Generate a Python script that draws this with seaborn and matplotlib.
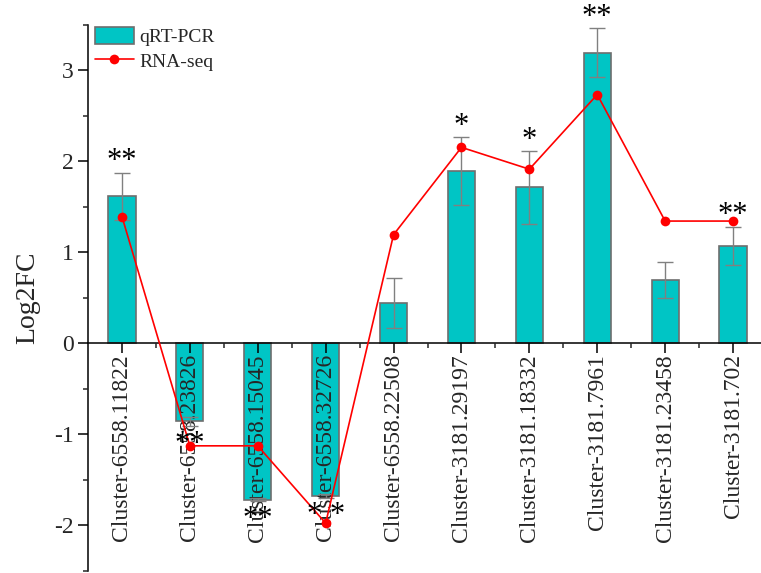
import matplotlib
matplotlib.use("Agg")
import matplotlib.pyplot as plt
import seaborn as sns
import pandas as pd
import numpy as np

genes = ["Cluster-6558.11822", "Cluster-6558.23826", "Cluster-6558.15045",
         "Cluster-6558.32726", "Cluster-6558.22508", "Cluster-3181.29197",
         "Cluster-3181.18332", "Cluster-3181.7961", "Cluster-3181.23458",
         "Cluster-3181.702"]
qpcr = [1.61, -0.86, -1.72, -1.68, 0.44, 1.89, 1.71, 3.19, 0.69, 1.07]
qpcr_err = [0.26, 0.05, 0.02, 0.02, 0.27, 0.37, 0.40, 0.27, 0.20, 0.21]
rnaseq = [1.39, -1.13, -1.13, -1.98, 1.19, 2.15, 1.91, 2.73, 1.34, 1.34]
signif = ["**", "**", "**", "* *", "", "*", "*", "**", "", "**"]

sns.set_theme(style="ticks")
plt.rcParams["font.family"] = ["Liberation Serif", "DejaVu Serif"]
plt.rcParams["axes.unicode_minus"] = False

df = pd.DataFrame({"gene": genes, "qRT-PCR": qpcr, "err": qpcr_err,
                   "RNA-seq": rnaseq})

fig = plt.figure(figsize=(7.61, 5.73), dpi=100)
ax = fig.add_axes([88 / 761, 1 - 570.5 / 573, 679 / 761, 546 / 573])

sns.barplot(data=df, x="gene", y="qRT-PCR", ax=ax, width=0.4,
            color="#00C5C5", edgecolor="#6E6E6E", linewidth=1.2,
            saturation=1, label="qRT-PCR", errorbar=None, zorder=1)
for p in ax.patches:
    p.set_zorder(1)
x = np.arange(len(genes))
ax.errorbar(x, df["qRT-PCR"], yerr=df["err"], fmt="none",
            ecolor="#808080", elinewidth=1.0, capsize=6, capthick=1.0, zorder=3)
sns.lineplot(x=x, y=df["RNA-seq"], ax=ax, color="red", linewidth=1.2,
             marker="o", markersize=7, markeredgewidth=0, label="RNA-seq",
             zorder=4)

# significance marks beyond each error bar
for i, (v, e, s) in enumerate(zip(qpcr, qpcr_err, signif)):
    if not s:
        continue
    ypos = v + e + 0.12 if v >= 0 else v - e - 0.2
    ax.text(i, ypos, s, ha="center", va="center", fontsize=22, color="black",
            clip_on=False, zorder=5)

ax.set_xlim(-0.5, len(genes) - 0.5)
ax.set_ylim(-2.5, 3.5)
ax.set_yticks([-2, -1, 0, 1, 2, 3])
ax.set_yticks(np.arange(-2.5, 3.51, 0.5), minor=True)
ax.set_xticks(x)
ax.set_xticks(x[:-1] + 0.5, minor=True)
ax.set_xticklabels(genes)
ax.tick_params(axis="y", labelsize=17, length=7, width=1.1, direction="out",
               color="black")
ax.tick_params(axis="y", which="minor", length=3.6, width=1.1)
ax.tick_params(axis="x", which="major", length=7, width=1.1, direction="out",
               pad=1, color="black", labelsize=17, labelrotation=90)
ax.tick_params(axis="x", which="minor", length=3.6, width=1.1, direction="out")
for lab in ax.get_xticklabels():
    lab.set_rotation(90)
    lab.set_fontsize(17)
    lab.set_ha("center")
    lab.set_va("top")

# tick labels sit over the bars, under the line and marks
ax.xaxis.set_zorder(2.5)
ax.yaxis.set_zorder(2.5)

ax.spines["bottom"].set_position(("data", 0))
ax.spines["top"].set_visible(False)
ax.spines["right"].set_visible(False)
for sp in ("left", "bottom"):
    ax.spines[sp].set_linewidth(1.1)
    ax.spines[sp].set_color("black")
    ax.spines[sp].set_zorder(2.5)

ax.set_xlabel("")
ax.set_ylabel("Log2FC", fontsize=20)
ax.yaxis.set_label_coords(-0.0707, 0.5)

handles, labels = ax.get_legend_handles_labels()
order = [labels.index("qRT-PCR"), labels.index("RNA-seq")]
ax.legend([handles[k] for k in order], [labels[k] for k in order],
          loc="upper left", bbox_to_anchor=(0.0, 1.008), frameon=False,
          fontsize=14, handlelength=2.0, handleheight=1.0,
          borderaxespad=0.15, borderpad=0.2, labelspacing=0.25,
          handletextpad=0.3)

fig.savefig("out.png", dpi=100)
